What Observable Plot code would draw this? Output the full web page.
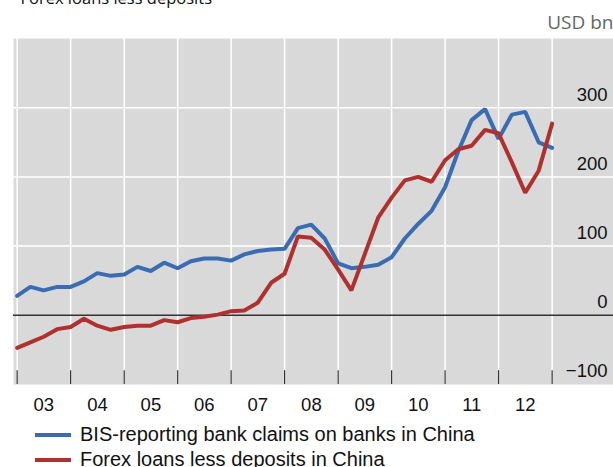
<!DOCTYPE html>
<html><head><meta charset="utf-8">
<script src="https://cdn.jsdelivr.net/npm/d3@7"></script>
<script src="https://cdn.jsdelivr.net/npm/@observablehq/plot@0.6"></script>
<style>
body{margin:0;background:#fff;}
#legend{font-family:"Liberation Sans",Arial,sans-serif;font-size:20px;color:#111;padding-top:4px;}
.row{position:relative;height:25px;line-height:25px;}
.sw{position:absolute;left:35px;top:11px;width:36px;height:4px;}
.lab{position:absolute;left:80px;top:0;white-space:nowrap;}
</style></head><body>
<div id="chart"></div>
<div id="legend"></div>
<script>
const quarters = [
 "2003-01-01","2003-04-01","2003-07-01","2003-10-01",
 "2004-01-01","2004-04-01","2004-07-01","2004-10-01",
 "2005-01-01","2005-04-01","2005-07-01","2005-10-01",
 "2006-01-01","2006-04-01","2006-07-01","2006-10-01",
 "2007-01-01","2007-04-01","2007-07-01","2007-10-01",
 "2008-01-01","2008-04-01","2008-07-01","2008-10-01",
 "2009-01-01","2009-04-01","2009-07-01","2009-10-01",
 "2010-01-01","2010-04-01","2010-07-01","2010-10-01",
 "2011-01-01","2011-04-01","2011-07-01","2011-10-01",
 "2012-01-01","2012-04-01","2012-07-01","2012-10-01",
 "2013-01-01"];
const bisClaims = [28,41,36,41,41,49,61,57,59,70,64,76,68,78,82,82,79,88,93,95,96,126,131,111,75,68,70,73,84,111,132,151,185,237,282,298,255,290,294,250,242];
const forexLoansLessDeposits = [-47,-39,-31,-20,-17,-5,-15,-21,-17,-15,-15,-7,-10,-4,-2,1,6,7,18,47,60,114,112,95,66,36,88,141,170,195,200,193,224,240,245,268,263,221,177,209,277];
const seriesNames = ["BIS-reporting bank claims on banks in China","Forex loans less deposits in China"];
const seriesColors = ["#3a6cb3","#b0302e"];
const yearTicks = ["2003","2004","2005","2006","2007","2008","2009","2010","2011","2012","2013"];
const yearLabels = ["03","04","05","06","07","08","09","10","11","12"];
const yTicks = [-100,0,100,200,300];
const yGrid = [100,200,300];
const unitLabel = "USD bn";
const titleText = "Forex loans less deposits";

const data = [];
quarters.forEach((q,i)=>{
  data.push({date:new Date(q), value:bisClaims[i], series:seriesNames[0]});
});
quarters.forEach((q,i)=>{
  data.push({date:new Date(q), value:forexLoansLessDeposits[i], series:seriesNames[1]});
});
const yearDates = yearTicks.map(y=>new Date(y+"-01-01"));
const labelData = yearLabels.map(l=>({label:l, date:new Date(Date.UTC(2000+ +l,6,2))}));
const fmt = d => d<0 ? "\u2212"+Math.abs(d) : String(d);

const chart = Plot.plot({
  width:613, height:418,
  marginTop:38, marginBottom:34, marginLeft:13, marginRight:0,
  x:{type:"utc", domain:[new Date(Date.UTC(2002,11,7)), new Date(Date.UTC(2014,1,24))], axis:null},
  y:{domain:[-100,400], axis:null},
  color:{domain:seriesNames, range:seriesColors},
  style:{fontFamily:"'Liberation Sans', Arial, sans-serif", background:"transparent", overflow:"visible"},
  marks:[
    Plot.frame({fill:"#d9d9d9", stroke:null}),
    Plot.ruleY(yGrid, {stroke:"#ffffff", strokeWidth:1.5}),
    Plot.ruleX(yearDates, {stroke:"#ffffff", strokeWidth:1.5}),
    Plot.ruleX(yearDates, {y1:-100, y2:-80, stroke:"#333", strokeWidth:1.2}),
    Plot.ruleY([0], {stroke:"#333", strokeWidth:1.5}),
    Plot.line(data.filter(d=>d.series===seriesNames[0]), {x:"date", y:"value", stroke:"series", strokeWidth:4, strokeLinejoin:"miter"}),
    Plot.line(data.filter(d=>d.series===seriesNames[1]), {x:"date", y:"value", stroke:"series", strokeWidth:4, strokeLinejoin:"miter"}),
    Plot.text(yTicks, {y:d=>d, text:fmt, frameAnchor:"right", textAnchor:"end", lineAnchor:"middle", dx:-6, dy:-13, fontSize:18.5, fill:"#111"}),
    Plot.text(labelData, {x:"date", text:"label", frameAnchor:"bottom", lineAnchor:"middle", dy:21, fontSize:18.5, fill:"#111"}),
    Plot.text([unitLabel], {text:d=>d, frameAnchor:"top-right", textAnchor:"end", lineAnchor:"middle", dy:-16, dx:0, fontSize:19, fill:"#666", fontFamily:"'Open Sans', sans-serif"}),
    Plot.text([titleText], {text:d=>d, frameAnchor:"top-left", textAnchor:"start", lineAnchor:"middle", dx:7, dy:-40, fontSize:16.5, fill:"#111", fontFamily:"'Open Sans', sans-serif"})
  ]
});
document.getElementById("chart").appendChild(chart);

const legend = document.getElementById("legend");
seriesNames.forEach((name,i)=>{
  const row = document.createElement("div"); row.className="row";
  const sw = document.createElement("div"); sw.className="sw"; sw.style.background=seriesColors[i];
  const lab = document.createElement("div"); lab.className="lab"; lab.textContent=name;
  row.appendChild(sw); row.appendChild(lab); legend.appendChild(row);
});
</script>
</body></html>
